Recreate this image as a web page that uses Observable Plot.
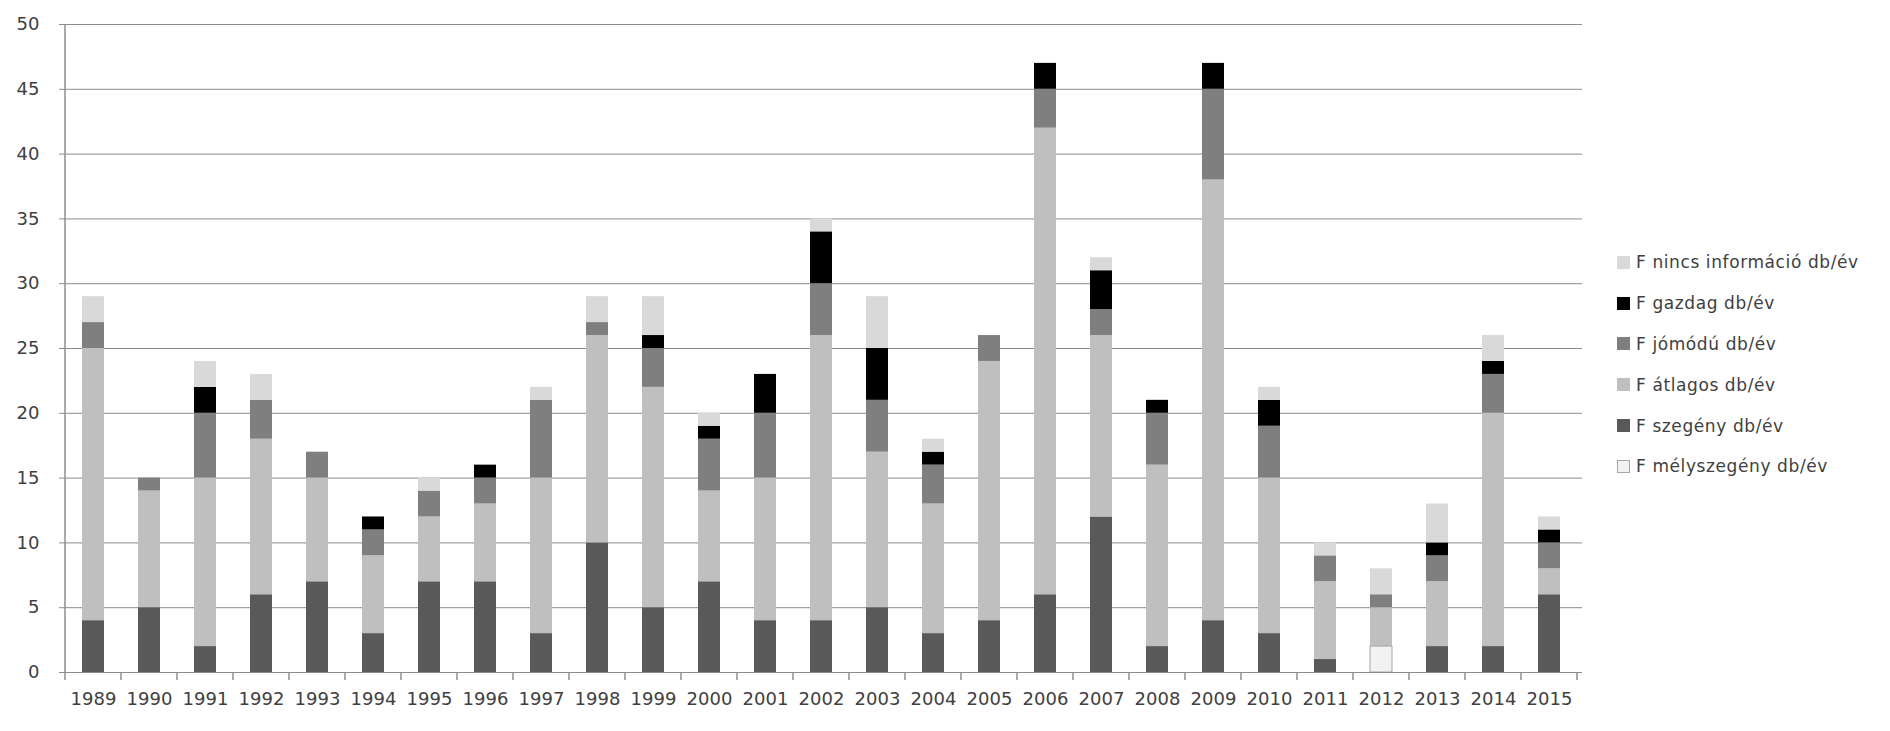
<!DOCTYPE html>
<html>
<head>
<meta charset="utf-8">
<script src="https://cdn.jsdelivr.net/npm/d3@7"></script>
<script src="https://cdn.jsdelivr.net/npm/@observablehq/plot@0.6"></script>
<style>
  html, body { margin: 0; padding: 0; background: #fff; }
  #wrap { position: relative; width: 1890px; height: 731px; }
  #legend { position: absolute; left: 1617px; top: 242px; font-family: "DejaVu Sans", sans-serif; font-size: 17px; letter-spacing: 0.6px; color: #404040; }
  #legend .row { height: 40.8px; display: flex; align-items: center; white-space: nowrap; }
  #legend .sw { width: 13px; height: 13px; margin-right: 6px; box-sizing: border-box; }
</style>
</head>
<body>
<div id="wrap"><div id="chart"></div><div id="legend"></div></div>
<script>
const years = ["1989","1990","1991","1992","1993","1994","1995","1996","1997","1998","1999","2000","2001","2002","2003","2004","2005","2006","2007","2008","2009","2010","2011","2012","2013","2014","2015"];
const melyszegeny = [0,0,0,0,0,0,0,0,0,0,0,0,0,0,0,0,0,0,0,0,0,0,0,2,0,0,0];
const szegeny     = [4,5,2,6,7,3,7,7,3,10,5,7,4,4,5,3,4,6,12,2,4,3,1,0,2,2,6];
const atlagos     = [21,9,13,12,8,6,5,6,12,16,17,7,11,22,12,10,20,36,14,14,34,12,6,3,5,18,2];
const jomodu      = [2,1,5,3,2,2,2,2,6,1,3,4,5,4,4,3,2,3,2,4,7,4,2,1,2,3,2];
const gazdag      = [0,0,2,0,0,1,0,1,0,0,1,1,3,4,4,1,0,2,3,1,2,2,0,0,1,1,1];
const nincs       = [2,0,2,2,0,0,1,0,1,2,3,1,0,1,4,1,0,0,1,0,0,1,1,2,3,2,1];

const seriesNames = ["F mélyszegény db/év","F szegény db/év","F átlagos db/év","F jómódú db/év","F gazdag db/év","F nincs információ db/év"];
const seriesValues = [melyszegeny, szegeny, atlagos, jomodu, gazdag, nincs];
const seriesColors = ["#f2f2f2","#595959","#bfbfbf","#7f7f7f","#000000","#d9d9d9"];
const yTicks = [0,5,10,15,20,25,30,35,40,45,50];

const data = [];
seriesNames.forEach((s, si) => years.forEach((yr, i) => data.push({year: yr, series: s, value: seriesValues[si][i]})));

const chart = Plot.plot({
  width: 1890,
  height: 731,
  marginLeft: 59,
  marginRight: 308,
  marginTop: 24,
  marginBottom: 59,
  style: {fontFamily: "DejaVu Sans, sans-serif", fontSize: "18px", color: "#404040", background: "#fff"},
  x: {domain: years, paddingInner: 0.61, paddingOuter: 0.305, label: null},
  y: {domain: [0, 50], label: null},
  color: {domain: seriesNames, range: seriesColors},
  marks: [
    Plot.gridY(yTicks, {stroke: "#8c8c8c", strokeOpacity: 1}),
    Plot.barY(data, {x: "year", y: "value", fill: "series", order: seriesNames}),
    Plot.barY(data.filter(d => d.series === seriesNames[0] && d.value > 0), {x: "year", y: "value", fill: "none", stroke: "#a6a6a6", strokeWidth: 1}),
    Plot.ruleY([0], {stroke: "#8c8c8c"}),
    Plot.axisY(yTicks, {tickSize: 0, tickPadding: 20, label: null, fontSize: 18}),
    Plot.axisX({tickSize: 0, tickPadding: 20, label: null, fontSize: 18})
  ]
});
document.getElementById("chart").appendChild(chart);

// category-boundary ticks and y-axis line derived from the scales
const xs = chart.scale("x"), ys = chart.scale("y");
const svg = d3.select(chart);
const gap = (xs.step - xs.bandwidth) / 2;
const bounds = years.map(y => xs.apply(y) - gap);
bounds.push(xs.apply(years[years.length - 1]) + xs.bandwidth + gap);
const y0 = ys.apply(0), yTop = ys.apply(50);
const g = svg.append("g").attr("stroke", "#8c8c8c").attr("stroke-width", 1.5);
g.selectAll("line.tk").data(bounds).join("line")
  .attr("x1", d => d).attr("x2", d => d).attr("y1", y0).attr("y2", y0 + 8);
g.append("line").attr("x1", bounds[0]).attr("x2", bounds[0]).attr("y1", yTop).attr("y2", y0);

// legend
const legend = d3.select("#legend");
const legendOrder = [5,4,3,2,1,0];
legendOrder.forEach(i => {
  const row = legend.append("div").attr("class", "row");
  row.append("div").attr("class", "sw").style("background", seriesColors[i]).style("border", i === 0 ? "1px solid #a6a6a6" : "none");
  row.append("span").text(seriesNames[i]);
});
</script>
</body>
</html>
